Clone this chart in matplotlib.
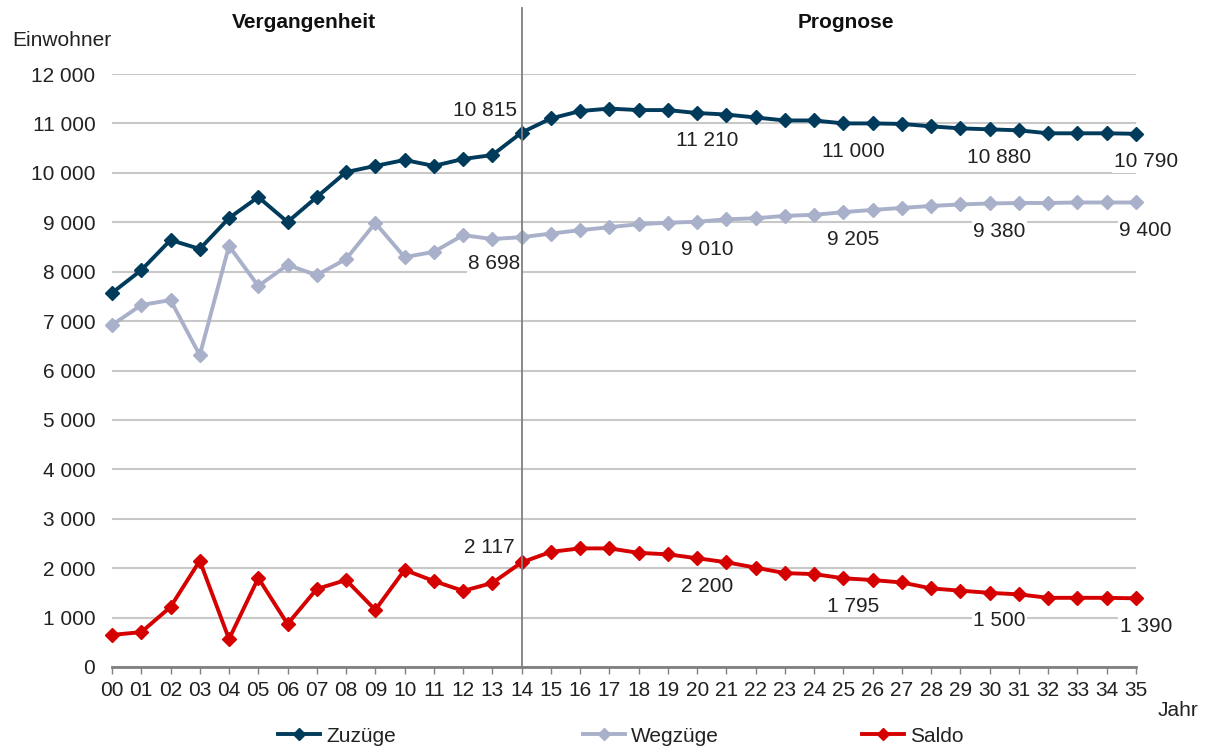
import matplotlib
matplotlib.use('Agg')
import matplotlib.pyplot as plt
from matplotlib.lines import Line2D
from matplotlib.ticker import FuncFormatter, MultipleLocator
import matplotlib.transforms as mtrans

plt.rcParams['font.family'] = ['Liberation Sans', 'DejaVu Sans']

years = list(range(0, 36))
year_labels = ['%02d' % y for y in years]

zuzuege = [7570, 8030, 8640, 8460, 9085, 9510, 9005, 9510, 10015, 10140,
           10260, 10140, 10280, 10360, 10815, 11100, 11250, 11300, 11270, 11270,
           11210, 11180, 11120, 11060, 11060, 11000, 11000, 10990, 10940, 10900,
           10880, 10860, 10800, 10800, 10800, 10790]
wegzuege = [6920, 7325, 7425, 6310, 8520, 7710, 8135, 7930, 8255, 8985,
            8295, 8400, 8740, 8660, 8698, 8770, 8840, 8900, 8960, 8990,
            9010, 9060, 9080, 9130, 9150, 9205, 9250, 9290, 9330, 9360,
            9380, 9390, 9390, 9400, 9400, 9400]
saldo = [650, 705, 1215, 2150, 565, 1800, 870, 1580, 1760, 1155,
         1965, 1740, 1540, 1700, 2117, 2330, 2400, 2400, 2310, 2280,
         2200, 2120, 2010, 1900, 1880, 1795, 1760, 1710, 1590, 1545,
         1500, 1470, 1400, 1400, 1400, 1390]

label_years = [20, 25, 30, 35]
series = [
    ('Zuzüge', zuzuege, '#003B5C'),
    ('Wegzüge', wegzuege, '#A9B0C9'),
    ('Saldo', saldo, '#D50000'),
]

FS = 15

def fmt(v):
    return '{:,}'.format(int(v)).replace(',', ' ')

fig = plt.figure(figsize=(12.07, 7.46), dpi=100)
ax = fig.add_axes([112/1207, 1 - 667/746, 1024/1207, 593/746])

for name, vals, col in series:
    ax.plot(years, vals, color=col, lw=2.8, marker='D', ms=7.5, clip_on=False, zorder=4)

ax.set_xlim(0, 35)
ax.set_ylim(0, 12000)
ax.yaxis.set_major_locator(MultipleLocator(1000))
ax.yaxis.set_major_formatter(FuncFormatter(lambda v, p: fmt(v)))
ax.set_xticks(years)
ax.set_xticklabels(year_labels)
ax.grid(axis='y', color='#C8C8C8', lw=1.5)
ax.set_axisbelow(True)
for s in ['top', 'right', 'left']:
    ax.spines[s].set_visible(False)
ax.spines['bottom'].set_color('#808080')
ax.spines['bottom'].set_linewidth(2)
ax.tick_params(axis='y', length=0, pad=12, labelsize=FS, labelcolor='#222222')
ax.tick_params(axis='x', length=5, width=1, color='#808080', pad=5,
               labelsize=FS, labelcolor='#222222')

# Trennlinie Vergangenheit / Prognose
ax.axvline(14, ymin=0, ymax=(667 - 8) / 593, color='#808080', lw=1.3,
           clip_on=False, zorder=6)

box = dict(fc='white', ec='none', pad=1)
txt = dict(fontsize=FS, color='#222222', bbox=box, zorder=5)

# Werte 2014
ax.annotate(fmt(zuzuege[14]), (14, zuzuege[14]), xytext=(-3, 16),
            textcoords='offset points', ha='right', va='center', **txt)
ax.annotate(fmt(wegzuege[14]), (14, wegzuege[14]), xytext=(-1, -19),
            textcoords='offset points', ha='right', va='center', **txt)
ax.annotate(fmt(saldo[14]), (14, saldo[14]), xytext=(-5, 11),
            textcoords='offset points', ha='right', va='center', **txt)

for name, vals, col in series:
    for y in label_years:
        ax.annotate(fmt(vals[y]), (y, vals[y]), xytext=(7, -20),
                    textcoords='offset points', ha='center', va='center',
                    annotation_clip=False, **txt)

tr = mtrans.blended_transform_factory(ax.transData, fig.transFigure)
fig.text(6.56, 1 - 23/746, 'Vergangenheit', transform=tr, ha='center',
         va='center', fontsize=FS, fontweight='bold', color='#111111')
fig.text(25.1, 1 - 23/746, 'Prognose', transform=tr, ha='center',
         va='center', fontsize=FS, fontweight='bold', color='#111111')
fig.text(12/1207, 1 - 40/746, 'Einwohner', ha='left', va='center',
         fontsize=FS, color='#222222')
fig.text(1158/1207, 1 - 711/746, 'Jahr', ha='left', va='center',
         fontsize=FS, color='#222222')

# Legende
for (name, vals, col), x0 in zip(series, [278, 583, 862]):
    h = Line2D([], [], color=col, lw=2.8, marker='D', ms=6)
    fig.legend(handles=[h], labels=[name], loc='center left',
               bbox_to_anchor=(x0/1207, 1 - 736/746), frameon=False,
               borderpad=0, borderaxespad=0, handlelength=2.0,
               handletextpad=0.3, fontsize=FS, labelcolor='#222222')

fig.savefig('out.png', dpi=100)
